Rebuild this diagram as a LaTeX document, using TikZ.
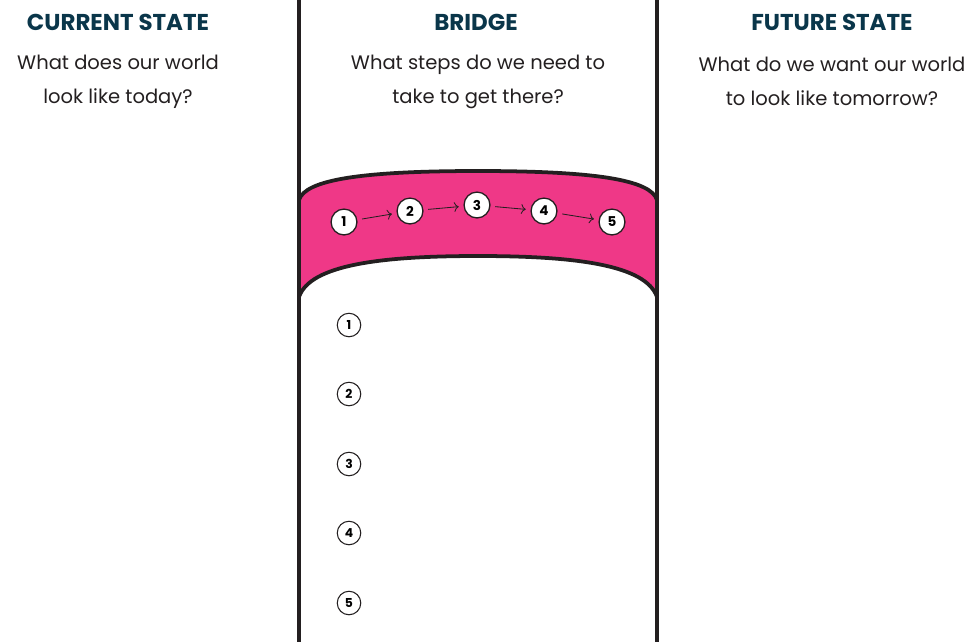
\documentclass[tikz,border=0pt]{standalone}
\usepackage{fontspec}
\setmainfont{Poppins}
\usetikzlibrary{arrows.meta}

\definecolor{bridgepink}{RGB}{239,56,135}
\definecolor{headteal}{RGB}{10,54,74}
\definecolor{inkline}{RGB}{35,31,32}

\begin{document}
\begin{tikzpicture}[x=0.85pt,y=-0.85pt,
    heading/.style={font=\fontsize{19.5}{20}\selectfont\bfseries, text=headteal},
    question/.style={font=\fontsize{16.6}{29}\selectfont, text=inkline, align=center},
    bandnum/.style={circle, draw=inkline, fill=white, line width=1.1pt,
      minimum size=22pt, inner sep=0pt, font=\fontsize{11.5}{12}\selectfont\bfseries},
    listnum/.style={circle, draw=inkline, fill=white, line width=0.9pt,
      minimum size=20pt, inner sep=0pt, font=\fontsize{10.5}{11}\selectfont\bfseries},
    steparrow/.style={-{To[length=4pt]}, inkline, line width=0.7pt, shorten <=4pt, shorten >=4pt},
    divider/.style={inkline, line width=3.2pt}]

  % Keep the page at the size of the reference
  \useasboundingbox (0,0) rectangle (968,642);

  % The pink band across the bridge
  \fill[bridgepink] (299,200) .. controls (305,180) and (360,171) .. (478,171)
        .. controls (596,171) and (651,180) .. (657,200)
        -- (657,297) .. controls (646,265) and (576,256) .. (478,256)
        .. controls (380,256) and (310,265) .. (299,297) -- cycle;
  \draw[divider] (299,200) .. controls (305,180) and (360,171) .. (478,171)
        .. controls (596,171) and (651,180) .. (657,200);
  \draw[divider] (299,297) .. controls (310,265) and (380,256) .. (478,256)
        .. controls (576,256) and (646,265) .. (657,297);

  % Column dividers
  \draw[divider] (299,0) -- (299,642);
  \draw[divider] (657,0) -- (657,642);

  % Headings and questions
  \node[heading] (curhead) at (118,22) {CURRENT STATE};
  \node[heading] (brihead) at (476,22) {BRIDGE};
  \node[heading] (futhead) at (832,22) {FUTURE STATE};

  \node[question] (curq) at (118,82) {What does our world\\look like today?};
  \node[question] (briq) at (478,82) {What steps do we need to\\take to get there?};
  \node[question] (futq) at (832,81) {What do we want our world\\to look like tomorrow?};

  % Steps along the band
  \node[bandnum] (s1) at (344,222) {1};
  \node[bandnum] (s2) at (410,211) {2};
  \node[bandnum] (s3) at (477,205) {3};
  \node[bandnum] (s4) at (544,211) {4};
  \node[bandnum] (s5) at (612,222) {5};

  \draw[steparrow] (s1) -- (s2);
  \draw[steparrow] (s2) -- (s3);
  \draw[steparrow] (s3) -- (s4);
  \draw[steparrow] (s4) -- (s5);

  % Numbered list below the band
  \foreach \n/\y in {1/325,2/394,3/464,4/533,5/603}
    \node[listnum] (l\n) at (349,\y) {\n};

\end{tikzpicture}
\end{document}
